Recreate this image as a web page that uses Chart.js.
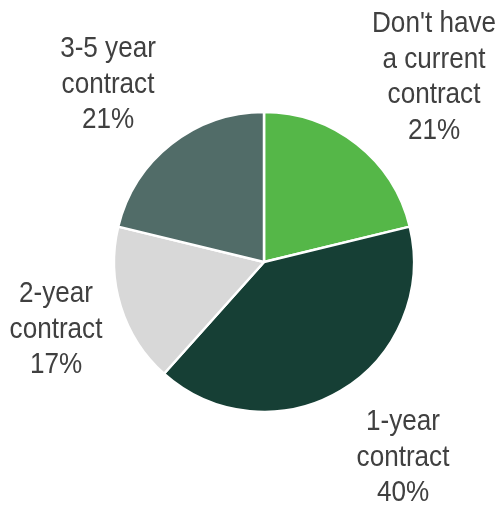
<!DOCTYPE html>
<html>
<head>
    <title>Contract length</title>
    <script src="https://cdn.jsdelivr.net/npm/chart.js"></script>
    <style>
        html, body {
            margin: 0;
            padding: 0;
            background-color: #ffffff;
        }
        #wrap {
            width: 499px;
            height: 506px;
        }
    </style>
</head>
<body>
    <div id="wrap">
        <canvas id="myChart" width="499" height="506"></canvas>
    </div>

    <script>
        // Data for the pie
        const categorias = ["Don't have a current contract", "1-year contract", "2-year contract", "3-5 year contract"];
        const porcentajes = [21, 40, 17, 21];
        const colores = ["#55b748", "#163f35", "#d8d8d8", "#516c68"];
        // label text, split in lines
        const etiquetas = [
            ["Don't have", "a current", "contract", "21%"],
            ["1-year", "contract", "40%"],
            ["2-year", "contract", "17%"],
            ["3-5 year", "contract", "21%"]
        ];

        // label block: centre x and first baseline, relative to the pie centre
        const labelOffsets = [
            { dx: 170, dy: -230 },
            { dx: 139, dy: 168 },
            { dx: -208, dy: 40 },
            { dx: -156, dy: -205 }
        ];

        const outsideLabels = {
            id: 'outsideLabels',
            afterDatasetsDraw(chart) {
                const ctx = chart.ctx;
                const meta = chart.getDatasetMeta(0);
                const lineH = 35.7;
                ctx.save();
                ctx.fillStyle = '#404040';
                ctx.font = '30px "Liberation Sans", Arial, sans-serif';
                ctx.textAlign = 'center';
                ctx.textBaseline = 'alphabetic';
                meta.data.forEach((arc, i) => {
                    const cx = arc.x + labelOffsets[i].dx;
                    const y0 = arc.y + labelOffsets[i].dy;
                    etiquetas[i].forEach((txt, j) => {
                        // narrow look: squeeze the text horizontally
                        ctx.save();
                        ctx.translate(cx, y0 + j * lineH);
                        ctx.scale(0.87, 1);
                        ctx.fillText(txt, 0, 0);
                        ctx.restore();
                    });
                });
                ctx.restore();
            }
        };

        const ctx = document.getElementById('myChart').getContext('2d');
        const myChart = new Chart(ctx, {
            type: 'pie',
            data: {
                labels: categorias,
                datasets: [{
                    data: porcentajes,
                    backgroundColor: colores,
                    borderColor: '#ffffff',
                    borderWidth: 2.5
                }]
            },
            options: {
                responsive: false,
                animation: false,
                radius: 150,
                layout: {
                    padding: { left: 29, right: 0, top: 18, bottom: 0 }
                },
                plugins: {
                    legend: { display: false },
                    tooltip: { enabled: false }
                }
            },
            plugins: [outsideLabels]
        });
    </script>
</body>
</html>
